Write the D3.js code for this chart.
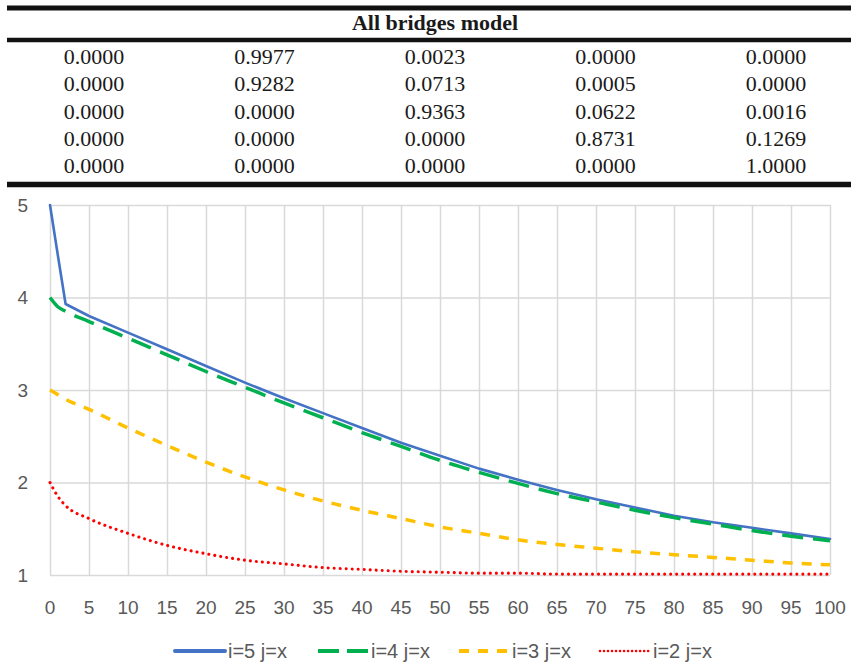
<!DOCTYPE html>
<html>
<head>
<meta charset="utf-8">
<script src="https://cdn.jsdelivr.net/npm/d3@7"></script>
<style>
  body { margin: 0; background: #fff; }
  svg { display: block; }
  .tbl-text { font-family: "Liberation Serif", "Times New Roman", serif; fill: #1a1a1a; }
  .tick-label { font-family: "Liberation Sans", Arial, sans-serif; fill: #595959; }
  .grid line { stroke: #d9d9d9; stroke-width: 1.5; }
  .grid path { stroke: none; }
</style>
</head>
<body>
<script>
// Transition table (All bridges model)
var tableTitle = "All bridges model";
var tableRows = [
    ["0.0000", "0.9977", "0.0023", "0.0000", "0.0000"],
    ["0.0000", "0.9282", "0.0713", "0.0005", "0.0000"],
    ["0.0000", "0.0000", "0.9363", "0.0622", "0.0016"],
    ["0.0000", "0.0000", "0.0000", "0.8731", "0.1269"],
    ["0.0000", "0.0000", "0.0000", "0.0000", "1.0000"]
];

// Chart data
var years = [0, 1, 2, 5, 10, 15, 20, 25, 30, 35, 40, 45, 50, 55, 60, 65, 70, 75, 80, 85, 90, 95, 100];
var i5 = [5.00, 4.46, 3.93, 3.80, 3.62, 3.44, 3.26, 3.08, 2.91, 2.75, 2.59, 2.43, 2.29, 2.15, 2.03, 1.92, 1.82, 1.73, 1.64, 1.57, 1.51, 1.45, 1.39];
var i4 = [4.00, 3.90, 3.85, 3.74, 3.56, 3.38, 3.20, 3.03, 2.86, 2.70, 2.54, 2.39, 2.24, 2.11, 1.99, 1.88, 1.79, 1.70, 1.62, 1.55, 1.48, 1.42, 1.37];
var i3 = [3.00, 2.95, 2.90, 2.79, 2.59, 2.40, 2.22, 2.06, 1.92, 1.80, 1.70, 1.61, 1.52, 1.45, 1.38, 1.33, 1.29, 1.25, 1.22, 1.19, 1.16, 1.13, 1.11];
var i2 = [2.00, 1.85, 1.75, 1.61, 1.45, 1.32, 1.23, 1.16, 1.12, 1.08, 1.06, 1.04, 1.03, 1.02, 1.02, 1.01, 1.01, 1.01, 1.01, 1.01, 1.01, 1.01, 1.01];
var seriesNames = ["i=5 j=x", "i=4 j=x", "i=3 j=x", "i=2 j=x"];
var xTicks = d3.range(0, 101, 5);
var yTicks = [1, 2, 3, 4, 5];

var styles = [
    { color: "#4472C4", width: 2.6, dash: null, cap: "round", curve: d3.curveLinear },
    { color: "#00B050", width: 3.5, dash: "21,10", cap: "butt", curve: d3.curveMonotoneX },
    { color: "#FFC000", width: 3.5, dash: "10,9", cap: "butt", curve: d3.curveMonotoneX },
    { color: "#FF0000", width: 3.1, dash: "0.01,6", cap: "round", curve: d3.curveMonotoneX }
];
var seriesValues = [i5, i4, i3, i2];

var W = 851, H = 664;
var svg = d3.select("body").append("svg").attr("width", W).attr("height", H);

// ---- Table ----
var tbl = svg.append("g");
[[8, 5], [40, 4.5], [184.5, 5.5]].forEach(function (l) {
    tbl.append("line")
        .attr("x1", 7).attr("x2", W)
        .attr("y1", l[0]).attr("y2", l[0])
        .attr("stroke", "#111").attr("stroke-width", l[1]);
});
tbl.append("text")
    .attr("class", "tbl-text")
    .attr("x", 435).attr("y", 30)
    .attr("text-anchor", "middle")
    .style("font-size", "22px").style("font-weight", "bold")
    .text(tableTitle);

var colX = d3.scalePoint().domain(d3.range(5)).range([94, 776]);
var rowY = d3.scalePoint().domain(d3.range(5)).range([64, 173]);
tableRows.forEach(function (row, r) {
    row.forEach(function (v, c) {
        tbl.append("text")
            .attr("class", "tbl-text")
            .attr("x", colX(c)).attr("y", rowY(r))
            .attr("text-anchor", "middle")
            .style("font-size", "22px")
            .text(v);
    });
});

// ---- Line chart ----
var x = d3.scaleLinear().domain([0, 100]).range([50, 830]);
var y = d3.scaleLinear().domain([1, 5]).range([575, 205]);

svg.append("g")
    .attr("class", "grid")
    .attr("transform", "translate(0,575)")
    .call(d3.axisBottom(x).tickValues(xTicks).tickSize(-(575 - 205)).tickFormat(""));
svg.append("g")
    .attr("class", "grid")
    .attr("transform", "translate(50,0)")
    .call(d3.axisLeft(y).tickValues(yTicks).tickSize(-(830 - 50)).tickFormat(""));

// tick labels
svg.append("g").selectAll("text")
    .data(xTicks).enter().append("text")
    .attr("class", "tick-label")
    .attr("x", function (d) { return x(d); })
    .attr("y", 607).attr("dy", "0.35em")
    .attr("text-anchor", "middle")
    .style("font-size", "19px")
    .text(function (d) { return d; });
svg.append("g").selectAll("text")
    .data(yTicks).enter().append("text")
    .attr("class", "tick-label")
    .attr("x", 28)
    .attr("y", function (d) { return y(d); }).attr("dy", "0.35em")
    .attr("text-anchor", "end")
    .style("font-size", "19px")
    .text(function (d) { return d; });

// series lines
seriesValues.forEach(function (vals, s) {
    var st = styles[s];
    var line = d3.line()
        .x(function (d, i) { return x(years[i]); })
        .y(function (d) { return y(d); })
        .curve(st.curve);
    svg.append("path")
        .datum(vals)
        .attr("fill", "none")
        .attr("stroke", st.color)
        .attr("stroke-width", st.width)
        .attr("stroke-dasharray", st.dash)
        .attr("stroke-linecap", st.cap)
        .attr("stroke-linejoin", "round")
        .attr("d", line);
});

// legend
var legendX = [175, 318, 459, 600];
var legend = svg.append("g").attr("transform", "translate(0,651)");
seriesNames.forEach(function (name, s) {
    var st = styles[s];
    legend.append("line")
        .attr("x1", legendX[s]).attr("x2", legendX[s] + 50)
        .attr("y1", 0).attr("y2", 0)
        .attr("stroke", st.color)
        .attr("stroke-width", s === 3 ? 2.6 : 4)
        .attr("stroke-dasharray", s === 0 ? null : (s === 1 ? "21,8" : (s === 2 ? "10,9" : "0.01,4")))
        .attr("stroke-linecap", st.cap);
    legend.append("text")
        .attr("class", "tick-label")
        .attr("x", legendX[s] + 53).attr("y", 0).attr("dy", "0.35em")
        .style("font-size", "20px")
        .text(name);
});
</script>
</body>
</html>
